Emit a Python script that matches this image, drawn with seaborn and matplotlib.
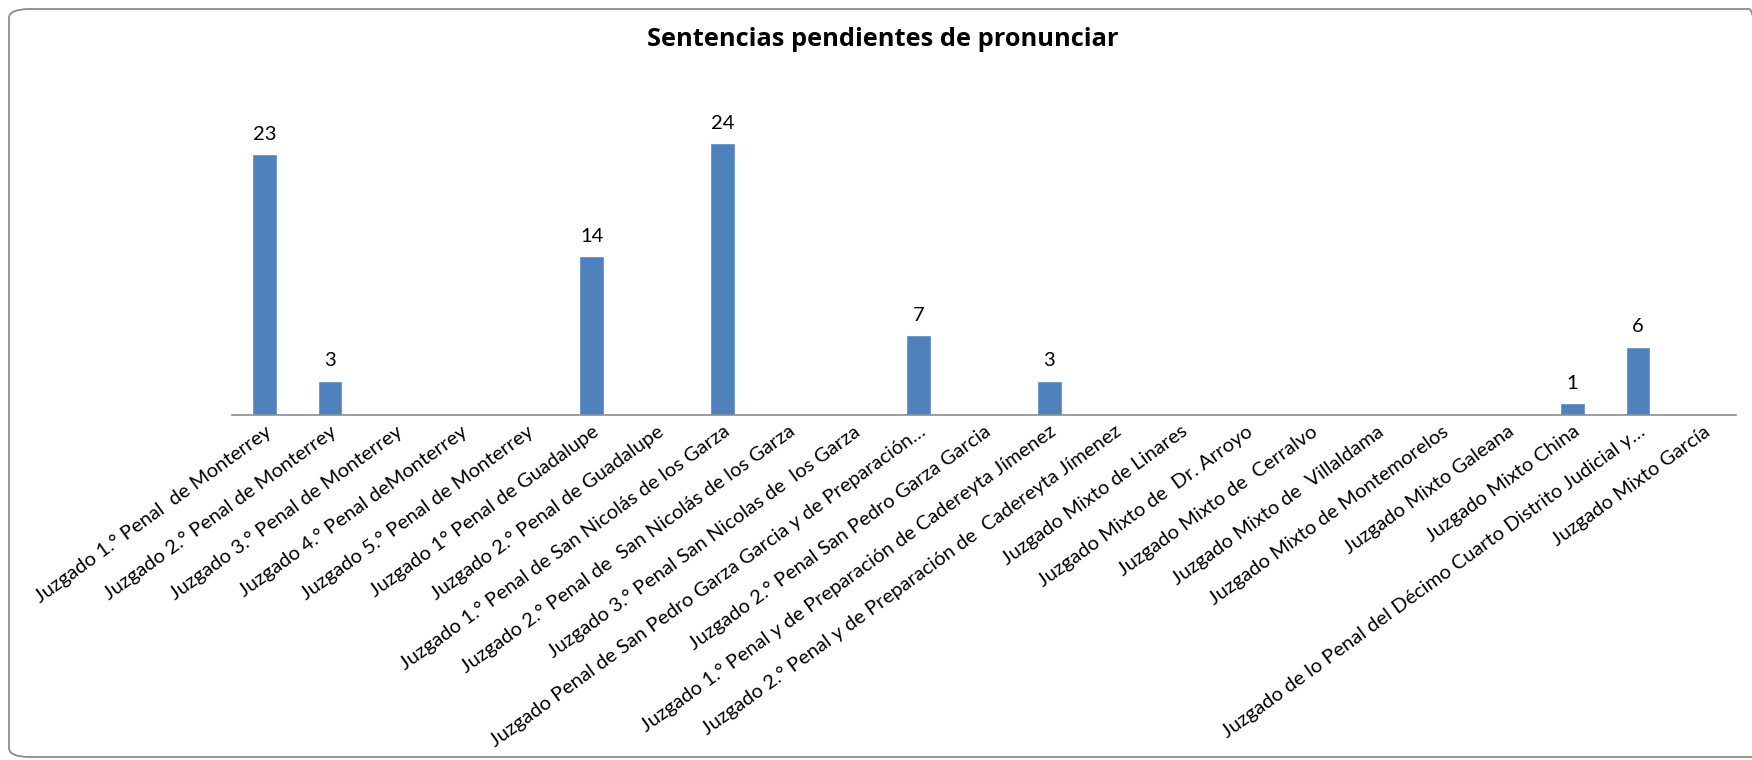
import matplotlib
matplotlib.use("Agg")
import matplotlib.pyplot as plt
import seaborn as sns
import pandas as pd
from matplotlib.patches import FancyBboxPatch

categories = [
    "Juzgado 1.° Penal  de Monterrey",
    "Juzgado 2.° Penal de Monterrey",
    "Juzgado 3.° Penal de Monterrey",
    "Juzgado 4.° Penal deMonterrey",
    "Juzgado 5.° Penal de Monterrey",
    "Juzgado 1° Penal de Guadalupe",
    "Juzgado 2.° Penal de Guadalupe",
    "Juzgado 1.° Penal de San Nicolás de los Garza",
    "Juzgado 2.° Penal de  San Nicolás de los Garza",
    "Juzgado 3.° Penal San Nicolas de  los Garza",
    "Juzgado Penal de San Pedro Garza Garcia y de Preparación…",
    "Juzgado 2.° Penal San Pedro Garza Garcia",
    "Juzgado 1.° Penal y de Preparación de Cadereyta Jímenez",
    "Juzgado 2.° Penal y de Preparación de  Cadereyta Jímenez",
    "Juzgado Mixto de Linares",
    "Juzgado Mixto de  Dr. Arroyo",
    "Juzgado Mixto de  Cerralvo",
    "Juzgado Mixto de  Villaldama",
    "Juzgado Mixto de Montemorelos",
    "Juzgado Mixto Galeana",
    "Juzgado Mixto China",
    "Juzgado de lo Penal del Décimo Cuarto Distrito Judicial y…",
    "Juzgado Mixto García",
]
values = [23, 3, 0, 0, 0, 14, 0, 24, 0, 0, 7, 0, 3, 0, 0, 0, 0, 0, 0, 0, 1, 6, 0]
title = "Sentencias pendientes de pronunciar"

sns.set_theme(style="white")
plt.rcParams["font.family"] = ["Lato", "DejaVu Sans"]

W, H = 1752, 760
fig = plt.figure(figsize=(W / 100, H / 100), dpi=100)
fig.patch.set_facecolor("white")

# rounded outer border
border = FancyBboxPatch((9 / W, 3 / H), (1770 - 9) / W, (751 - 3) / H,
                        boxstyle="round,pad=0,rounding_size=0.012",
                        transform=fig.transFigure, fill=False,
                        edgecolor="#8c8c8c", linewidth=1.3)
fig.patches.append(border)

left, right, base, top = 232, 1736, 414.5, 75
ax = fig.add_axes([left / W, 1 - base / H, (right - left) / W, (base - top) / H])

df = pd.DataFrame({"cat": categories, "val": values})
sns.barplot(data=df, x="cat", y="val", color="#4F81BD", saturation=1,
            width=0.376, ax=ax)
ax.set_ylim(0, 30)
ax.set_xlim(-0.5, len(categories) - 0.5)
ax.set_xlabel("")
ax.set_ylabel("")
ax.set_yticks([])
for s in ["top", "right", "left"]:
    ax.spines[s].set_visible(False)
ax.spines["bottom"].set_color("#8c8c8c")
ax.spines["bottom"].set_linewidth(1.2)
ax.tick_params(axis="x", length=0, pad=6)
ax.set_xticks(range(len(categories)))
ax.set_xticklabels(categories, rotation=36, ha="right", va="top",
                   rotation_mode="anchor", fontsize=14.5, color="black")
ax.patch.set_alpha(0)

labels = [str(v) if v > 0 else "" for v in values]
ax.bar_label(ax.containers[0], labels=labels, padding=8, fontsize=14.5, color="black")

fig.text(883 / W, 1 - 39 / H, title, ha="center", va="center",
         fontsize=18.3, fontweight="bold", color="black",
         family=["Open Sans", "DejaVu Sans"])

fig.savefig("out.png", dpi=100, facecolor="white")
